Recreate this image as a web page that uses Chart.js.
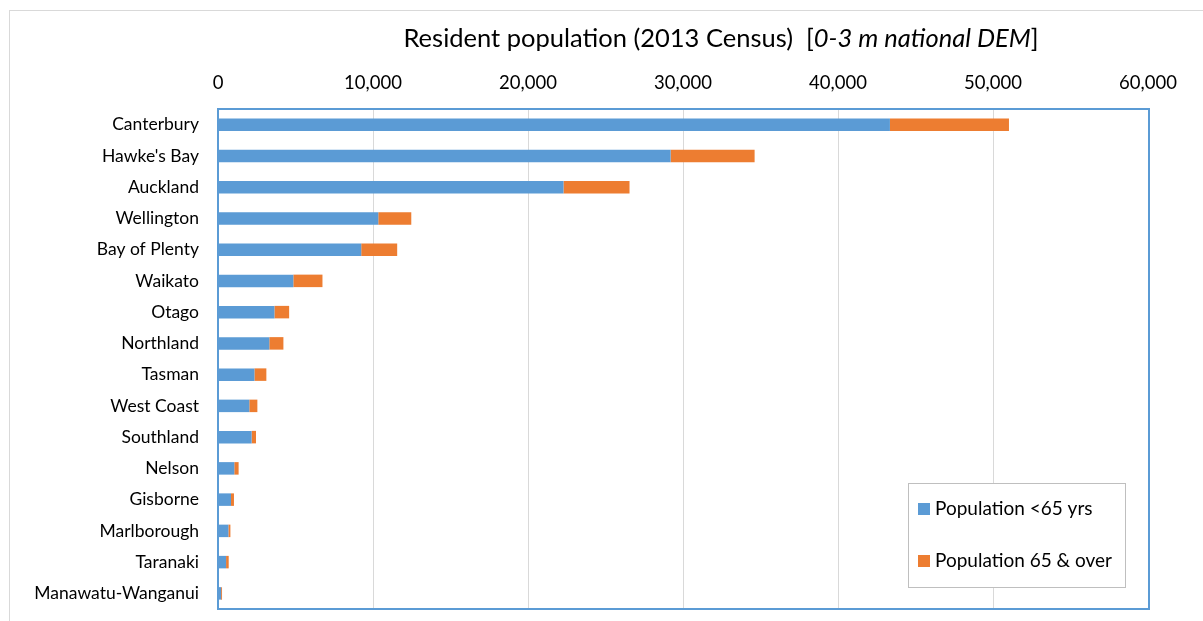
<!DOCTYPE html>
<html>
<head>
<meta charset="utf-8">
<script src="https://cdn.jsdelivr.net/npm/chart.js@4"></script>
<style>
  html, body { margin: 0; padding: 0; background: #fff; }
  #wrap { width: 1203px; height: 621px; }
</style>
</head>
<body>
<div id="wrap"><canvas id="popChart"></canvas></div>
<script>
const regions = ['Canterbury', "Hawke's Bay", 'Auckland', 'Wellington', 'Bay of Plenty', 'Waikato', 'Otago',
    'Northland', 'Tasman', 'West Coast', 'Southland', 'Nelson', 'Gisborne', 'Marlborough', 'Taranaki',
    'Manawatu-Wanganui'];
const under65 = [43350, 29200, 22290, 10340, 9240, 4860, 3640, 3310, 2350, 2020, 2170, 1050, 840, 670, 520, 200];
const over65 = [7680, 5420, 4260, 2130, 2320, 1880, 950, 910, 770, 520, 280, 280, 190, 130, 170, 60];
const seriesNames = ['Population <65 yrs', 'Population 65 & over'];
const xTicks = [0, 10000, 20000, 30000, 40000, 50000, 60000];

const FONT = 'Lato, "Open Sans", sans-serif';
const blue = '#5b9bd5';
const orange = '#ed7d31';

// title with the italic part, frame and legend box drawn by hand
const extras = {
    id: 'extras',
    beforeDraw(chart) {
        const c = chart.ctx;
        c.save();
        c.fillStyle = '#fff';
        c.fillRect(0, 0, chart.width, chart.height);
        c.strokeStyle = '#d9d9d9';
        c.lineWidth = 1;
        c.strokeRect(9.5, 10.5, chart.width + 20, chart.height + 20);
        c.restore();
    },
    afterDraw(chart) {
        const c = chart.ctx;
        const a = chart.chartArea;
        c.save();
        // plot area border
        c.strokeStyle = blue;
        c.lineWidth = 2;
        c.strokeRect(a.left, a.top, a.right - a.left + 1, a.bottom - a.top);

        // title
        const parts = [
            ['Resident population (2013 Census)  [', 'normal'],
            ['0-3 m national DEM', 'italic'],
            [']', 'normal']
        ];
        let total = 0;
        parts.forEach(p => {
            c.font = p[1] + ' 25.5px ' + FONT;
            total += c.measureText(p[0]).width;
        });
        let x = 721 - total / 2;
        c.fillStyle = '#000';
        c.textBaseline = 'alphabetic';
        parts.forEach(p => {
            c.font = p[1] + ' 25.5px ' + FONT;
            c.fillText(p[0], x, 47);
            x += c.measureText(p[0]).width;
        });

        // legend
        c.fillStyle = '#fff';
        c.fillRect(908, 483, 217, 104);
        c.strokeStyle = '#bfbfbf';
        c.lineWidth = 1;
        c.strokeRect(908.5, 483.5, 217, 104);
        c.font = '19px ' + FONT;
        chart.data.datasets.forEach((ds, i) => {
            const y = 509 + i * 52;
            c.fillStyle = ds.backgroundColor;
            c.fillRect(918, y - 6, 12, 12);
            c.fillStyle = '#000';
            c.fillText(ds.label, 935, y + 6);
        });
        c.restore();
    }
};

new Chart(document.getElementById('popChart'), {
    type: 'bar',
    data: {
        labels: regions,
        datasets: [
            { label: seriesNames[0], data: under65, backgroundColor: blue },
            { label: seriesNames[1], data: over65, backgroundColor: orange }
        ]
    },
    options: {
        indexAxis: 'y',
        responsive: true,
        maintainAspectRatio: false,
        animation: false,
        datasets: { bar: { categoryPercentage: 1, barPercentage: 0.4 } },
        layout: { padding: { left: 0, right: 55, top: 0, bottom: 12 } },
        plugins: {
            legend: { display: false },
            title: { display: false },
            tooltip: { enabled: false }
        },
        scales: {
            x: {
                position: 'top',
                stacked: true,
                min: 0,
                max: 60000,
                afterFit(s) { s.height = 109; s.paddingLeft = 0; s.paddingRight = 0; },
                afterBuildTicks(s) { s.ticks = xTicks.map(v => ({ value: v })); },
                grid: { color: '#d9d9d9', lineWidth: 1, drawTicks: false },
                border: { display: false },
                ticks: {
                    color: '#000',
                    padding: 15,
                    maxRotation: 0,
                    font: { family: FONT, size: 18.5 },
                    callback: v => v.toLocaleString('en-US')
                }
            },
            y: {
                stacked: true,
                afterFit(s) { s.width = 218; s.paddingTop = 0; s.paddingBottom = 0; },
                grid: { display: false, drawTicks: false },
                border: { display: false },
                ticks: {
                    color: '#000',
                    padding: 19,
                    autoSkip: false,
                    font: { family: FONT, size: 17.5 }
                }
            }
        }
    },
    plugins: [extras]
});
</script>
</body>
</html>
